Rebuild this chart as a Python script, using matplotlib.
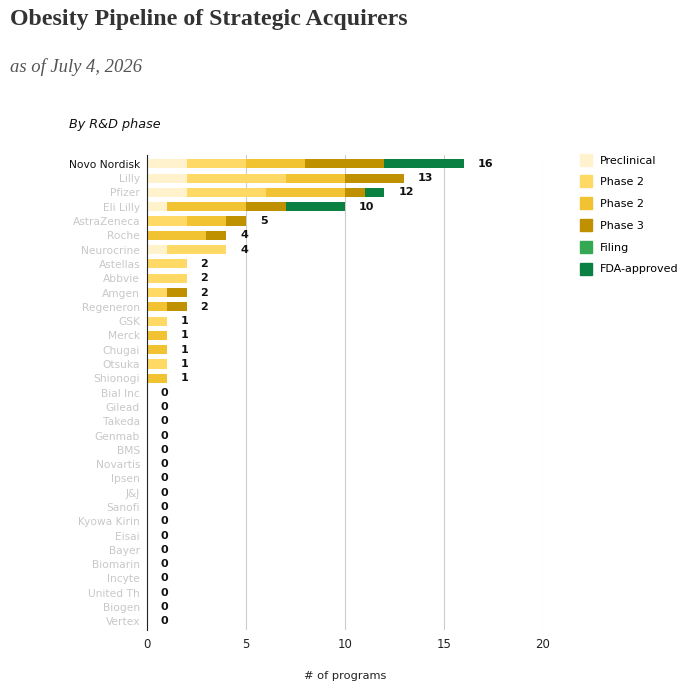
import numpy as np
import matplotlib
matplotlib.use("Agg")
from matplotlib import pyplot as plt
from matplotlib.lines import Line2D

companies = ["Novo Nordisk", "Lilly", "Pfizer", "Eli Lilly", "AstraZeneca", "Roche",
             "Neurocrine", "Astellas", "Abbvie", "Amgen", "Regeneron", "GSK", "Merck",
             "Chugai", "Otsuka", "Shionogi", "Bial Inc", "Gilead", "Takeda", "Genmab",
             "BMS", "Novartis", "Ipsen", "J&J", "Sanofi", "Kyowa Kirin", "Eisai", "Bayer",
             "Biomarin", "Incyte", "United Th", "Biogen", "Vertex"]
phases = ["Preclinical", "Phase 2", "Phase 2", "Phase 3", "Filing", "FDA-approved"]
colors = ["#fff2cc", "#ffd966", "#f1c232", "#bf9000", "#34a853", "#0b8043"]

preclinical = [2, 2, 2, 1, 0, 0, 1, 0, 0, 0, 0, 0, 0, 0, 0, 0] + [0] * 17
phase2_a    = [3, 5, 4, 0, 2, 0, 3, 2, 2, 1, 0, 1, 0, 0, 1, 0] + [0] * 17
phase2_b    = [3, 3, 4, 4, 2, 3, 0, 0, 0, 0, 1, 0, 1, 1, 0, 1] + [0] * 17
phase3      = [4, 3, 1, 2, 1, 1, 0, 0, 0, 1, 1, 0, 0, 0, 0, 0] + [0] * 17
filing      = [0] * 33
approved    = [4, 0, 1, 3, 0, 0, 0, 0, 0, 0, 0, 0, 0, 0, 0, 0] + [0] * 17

series = [preclinical, phase2_a, phase2_b, phase3, filing, approved]

fig = plt.figure(figsize=(6.87, 6.9), dpi=100)
ax = fig.add_axes([0.214, 0.087, 0.576, 0.688])

y = np.arange(len(companies))
left = np.zeros(len(companies))
for vals, c in zip(series, colors):
    vals = np.array(vals, dtype=float)
    ax.barh(y, vals, left=left, height=0.64, color=c, zorder=2)
    left += vals

for yi, tot in zip(y, left):
    ax.annotate(f"{int(tot)}", (tot, yi), xytext=(10, 0), textcoords="offset points",
                va="center", ha="left", fontsize=8, fontweight="bold", color="#111")

ax.set_ylim(len(companies) - 0.4, -0.6)
ax.set_xlim(0, 20)
ax.set_xticks([0, 5, 10, 15, 20])
ax.set_yticks(y)
ax.set_yticklabels(companies, fontsize=7.7)
for i, lab in enumerate(ax.get_yticklabels()):
    lab.set_color("#111" if i == 0 else "#c8c8c8")
ax.tick_params(axis="y", length=0, pad=5)
ax.tick_params(axis="x", length=0, labelsize=8.5, pad=6, colors="#222")
ax.grid(axis="x", color="#cccccc", linewidth=0.8, zorder=0)
for s in ["top", "right", "bottom"]:
    ax.spines[s].set_visible(False)
ax.spines["left"].set_color("#222")
ax.spines["left"].set_zorder(3)
ax.set_xlabel("# of programs", fontsize=8.2, labelpad=14, color="#222")

handles = [Line2D([], [], marker="s", linestyle="", markersize=9, color=c) for c in colors]
fig.legend(handles, phases, loc="upper left", bbox_to_anchor=(0.83, 0.789), frameon=False,
           fontsize=8, labelspacing=1.06, handletextpad=0.75, handlelength=1.0)

fig.text(0.015, 0.972, "Obesity Pipeline of Strategic Acquirers", fontsize=17.2, fontweight="bold",
         family="Liberation Serif", color="#333333", va="center")
fig.text(0.015, 0.903, "as of July 4, 2026", fontsize=13.4, style="italic",
         family="Liberation Serif", color="#555555", va="center")
fig.text(0.1, 0.82, "By R&D phase", fontsize=9.2, style="italic", color="#111", va="center")

fig.savefig("out.png", dpi=100, facecolor="white")
